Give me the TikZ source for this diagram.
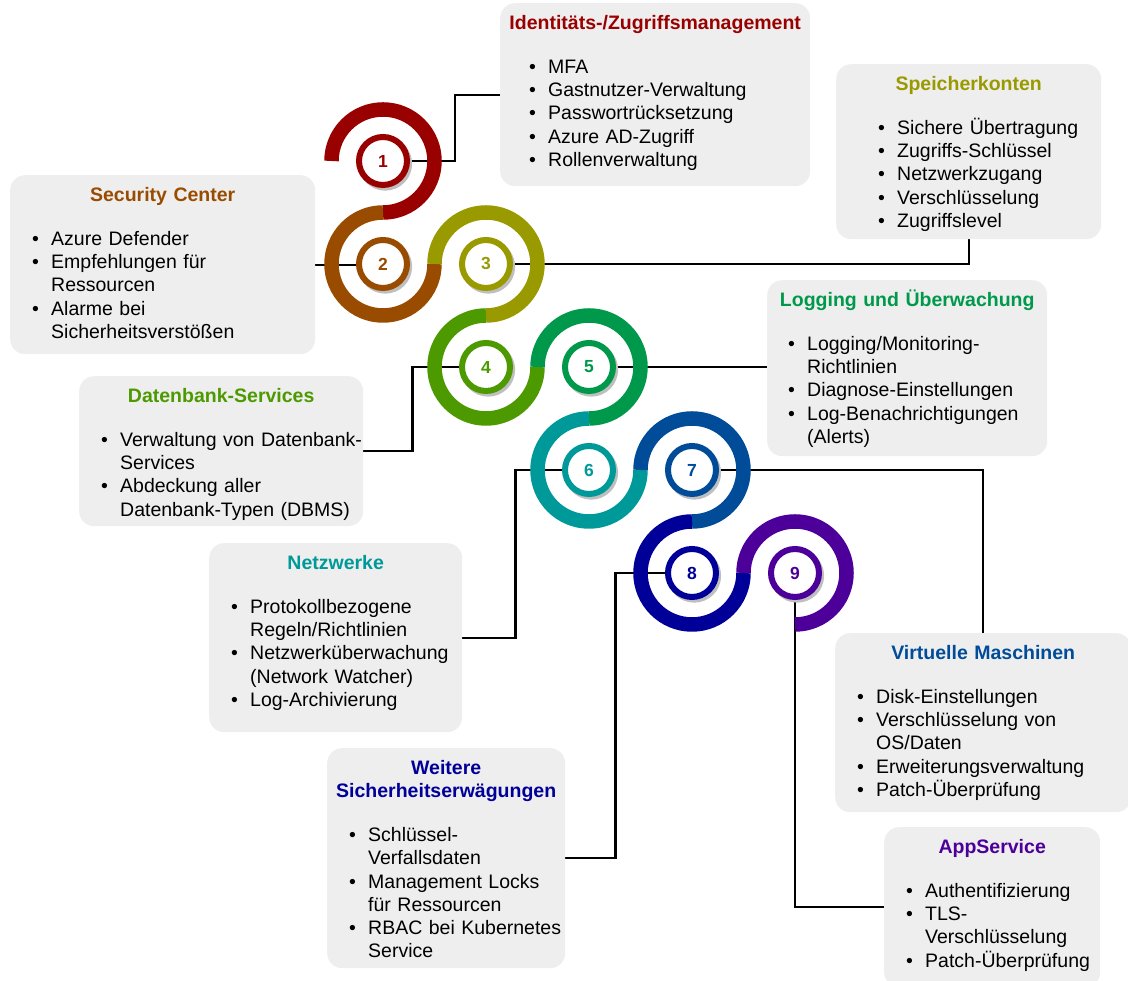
\documentclass[tikz,border=0pt]{standalone}
\usepackage{fontspec}
\setmainfont{Liberation Sans}
\usetikzlibrary{shadows}

\definecolor{rot}{HTML}{990000}
\definecolor{braun}{HTML}{994C00}
\definecolor{oliv}{HTML}{999900}
\definecolor{gruen}{HTML}{4C9900}
\definecolor{smaragd}{HTML}{00994C}
\definecolor{petrol}{HTML}{009999}
\definecolor{blau}{HTML}{004C99}
\definecolor{marine}{HTML}{000099}
\definecolor{lila}{HTML}{4C0099}
\definecolor{kasten}{HTML}{EEEEEE}

% connectors lie under the rings, the rings under the numbered circles
\pgfdeclarelayer{verbinder}
\pgfdeclarelayer{ringe}
\pgfsetlayers{verbinder,ringe,main}

\newcommand\kopf[2]{{\centering\bfseries\color{#1}#2\par}\vspace{20.5pt}}
% bullet item, \\ breaks the line but keeps the hanging indent
\newcommand\punkt[1]{\par\hangindent=19pt\hangafter=1\noindent
   \makebox[19pt][l]{\textbullet}{\def\\{\hfil\break}#1}\par}

\tikzset{
   box/.style={fill=kasten, rounded corners=15pt, inner sep=0pt,
      anchor=north west, text height=26.5pt,
      font=\fontsize{19.5pt}{23.25pt}\selectfont},
   einzug/.style={execute at begin node={\leftskip=#1\rightskip=-40pt plus 1fil}},
   nummer/.style={circle, draw=#1, text=#1, fill=white, line width=6pt,
      minimum size=48pt, inner sep=0pt,
      font=\fontsize{17.5pt}{20pt}\selectfont\bfseries,
      drop shadow={shadow xshift=2pt, shadow yshift=-2.5pt,
         shadow scale=1.12, fill=black!25, opacity=1}},
   ring/.style={draw=#1, line width=14.5pt},
   verbinder/.style={draw=black, line width=2.2pt}
}

\begin{document}
\begin{tikzpicture}[x=1pt, y=1pt]
   \useasboundingbox (0,0) rectangle (1128,981);

   % themes
   \node[box, einzug=29pt, text width=310pt, text depth=156.5pt] (iam) at (500,978) {%
      \kopf{rot}{Identitäts-/Zugriffsmanagement}
      \punkt{MFA}
      \punkt{Gastnutzer-Verwaltung}
      \punkt{Passwortrücksetzung}
      \punkt{Azure AD-Zugriff}
      \punkt{Rollenverwaltung}};
   \node[box, einzug=42pt, text width=265pt, text depth=148.5pt] (speicher) at (836,917) {%
      \kopf{oliv}{Speicherkonten}
      \punkt{Sichere Übertragung}
      \punkt{Zugriffs-Schlüssel}
      \punkt{Netzwerkzugang}
      \punkt{Verschlüsselung}
      \punkt{Zugriffslevel}};
   \node[box, einzug=22pt, text width=305pt, text depth=152.5pt] (security) at (10,806) {%
      \kopf{braun}{Security Center}
      \punkt{Azure Defender}
      \punkt{Empfehlungen für\\Ressourcen}
      \punkt{Alarme bei\\Sicherheitsverstößen}};
   \node[box, einzug=21pt, text width=280pt, text depth=149.5pt] (logging) at (767,701) {%
      \kopf{smaragd}{Logging und Überwachung}
      \punkt{Logging/Monitoring-\\Richtlinien}
      \punkt{Diagnose-Einstellungen}
      \punkt{Log-Benachrichtigungen\\(Alerts)}};
   \node[box, einzug=22pt, text width=284pt, text depth=123.5pt] (datenbank) at (79,605) {%
      \kopf{gruen}{Datenbank-Services}
      \punkt{Verwaltung von Datenbank-\\Services}
      \punkt{Abdeckung aller\\Datenbank-Typen (DBMS)}};
   \node[box, einzug=22pt, text width=253pt, text depth=162.5pt] (netz) at (209,438) {%
      \kopf{petrol}{Netzwerke}
      \punkt{Protokollbezogene\\Regeln/Richtlinien}
      \punkt{Netzwerküberwachung\\(Network Watcher)}
      \punkt{Log-Archivierung}};
   \node[box, einzug=22pt, text width=296pt, text depth=152.5pt] (vm) at (835,348) {%
      \kopf{blau}{Virtuelle Maschinen}
      \punkt{Disk-Einstellungen}
      \punkt{Verschlüsselung von\\OS/Daten}
      \punkt{Erweiterungsverwaltung}
      \punkt{Patch-Überprüfung}};
   \node[box, einzug=22pt, text width=238pt, text depth=193.5pt] (weitere) at (327,233) {%
      \kopf{marine}{Weitere\\Sicherheitserwägungen}
      \punkt{Schlüssel-\\Verfallsdaten}
      \punkt{Management Locks\\für Ressourcen}
      \punkt{RBAC bei Kubernetes\\Service}};
   \node[box, einzug=22pt, text width=216pt, text depth=133.5pt] (app) at (884,154) {%
      \kopf{lila}{AppService}
      \punkt{Authentifizierung}
      \punkt{TLS-\\Verschlüsselung}
      \punkt{Patch-Überprüfung}};

   % numbered circles
   \node[nummer=rot] (s1) at (383,820) {1};
   \node[nummer=braun] (s2) at (383,717) {2};
   \node[nummer=oliv] (s3) at (486,717) {3};
   \node[nummer=gruen] (s4) at (486,614) {4};
   \node[nummer=smaragd] (s5) at (589,614) {5};
   \node[nummer=petrol] (s6) at (589,511) {6};
   \node[nummer=blau] (s7) at (692,511) {7};
   \node[nummer=marine] (s8) at (692,408) {8};
   \node[nummer=lila] (s9) at (795,408) {9};

   % the snake of rings
   \begin{pgfonlayer}{ringe}
      \draw[ring=rot] (s1.center) ++(180:51.5) arc[start angle=180, end angle=-90, radius=51.5];
      \draw[ring=braun] (s2.center) ++(90:51.5) arc[start angle=90, end angle=360, radius=51.5];
      \draw[ring=oliv] (s3.center) ++(180:51.5) arc[start angle=180, end angle=-90, radius=51.5];
      \draw[ring=gruen] (s4.center) ++(90:51.5) arc[start angle=90, end angle=360, radius=51.5];
      \draw[ring=smaragd] (s5.center) ++(180:51.5) arc[start angle=180, end angle=-90, radius=51.5];
      \draw[ring=petrol] (s6.center) ++(90:51.5) arc[start angle=90, end angle=360, radius=51.5];
      \draw[ring=blau] (s7.center) ++(180:51.5) arc[start angle=180, end angle=-90, radius=51.5];
      \draw[ring=marine] (s8.center) ++(90:51.5) arc[start angle=90, end angle=360, radius=51.5];
      \draw[ring=lila] (s9.center) ++(180:51.5) arc[start angle=180, end angle=-90, radius=51.5];
   \end{pgfonlayer}

   \begin{pgfonlayer}{verbinder}
      \draw[verbinder] (s1.east) -- ++(45,0) |- (iam.west);
      \draw[verbinder] (security.east) -- (security.east -| s2.west);
      \draw[verbinder] (s3.east) -| (speicher.south);
      \draw[verbinder] (datenbank.east) -- ++(49,0) |- (s4.west);
      \draw[verbinder] (s5.east) -- (s5.east -| logging.west);
      \draw[verbinder] (netz.east) -- ++(53,0) |- (s6.west);
      \draw[verbinder] (s7.east) -| (vm.north);
      \draw[verbinder] (weitere.east) -- ++(50,0) |- (s8.west);
      \draw[verbinder] (s9.south) |- (app.west);
   \end{pgfonlayer}
\end{tikzpicture}
\end{document}
